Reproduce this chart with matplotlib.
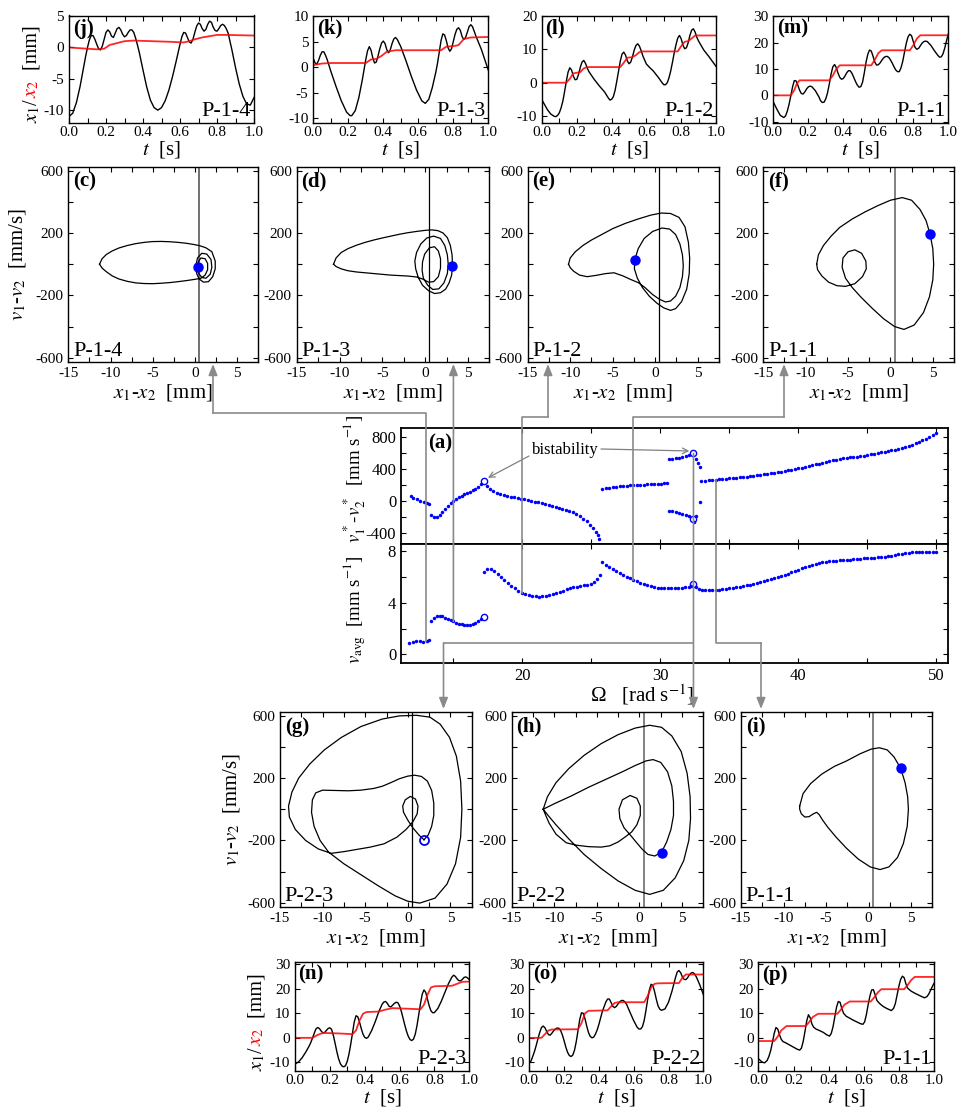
import numpy as np
import matplotlib
matplotlib.use("Agg")
import matplotlib.pyplot as plt
from matplotlib.lines import Line2D
from matplotlib.patches import FancyArrowPatch

plt.rcParams["font.family"] = "serif"
plt.rcParams["font.serif"] = ["Liberation Serif", "DejaVu Serif"]
plt.rcParams["mathtext.fontset"] = "stix"
plt.rcParams["axes.unicode_minus"] = False

W, H = 964, 1112

# -------------------------------------------------
# time series: (t [s], x1 [mm]) black and (t, x2 [mm]) red
# -------------------------------------------------
j_x1 = [(0, -11), (.02, -10.5), (.04, -8.8), (.06, -6.2), (.08, -3.0), (.09, -1.4), (.10, 0.0), (.11, 1.2),
        (.12, 1.9), (.13, 1.9), (.14, 1.3), (.15, 0.5), (.16, -0.2), (.17, -0.4), (.18, 0.2), (.19, 1.3),
        (.20, 2.4), (.21, 2.8), (.22, 2.5), (.23, 1.8), (.24, 1.6), (.25, 2.3), (.26, 3.0), (.27, 3.2),
        (.28, 2.8), (.29, 2.1), (.30, 1.7), (.31, 1.9), (.32, 2.4), (.33, 2.8), (.34, 2.8), (.35, 2.4),
        (.36, 1.5), (.37, 0.4), (.38, -0.8), (.40, -3.6), (.42, -6.3), (.44, -8.4), (.46, -9.6), (.48, -10),
        (.50, -9.6), (.52, -8.5), (.54, -6.8), (.56, -4.6), (.58, -2.1), (.59, -0.8), (.60, 0.5), (.61, 1.7),
        (.62, 2.4), (.63, 2.3), (.64, 1.6), (.65, 0.9), (.66, 0.7), (.67, 1.3), (.68, 2.4), (.69, 3.4),
        (.70, 3.9), (.71, 3.7), (.72, 3.0), (.73, 2.6), (.74, 2.9), (.75, 3.7), (.76, 4.2), (.77, 4.0),
        (.78, 3.2), (.79, 2.7), (.80, 2.6), (.81, 3.0), (.82, 3.5), (.83, 3.7), (.84, 3.5), (.85, 3.0),
        (.86, 2.3), (.88, -0.3), (.90, -3.2), (.92, -5.8), (.94, -7.8), (.96, -9.0), (.98, -9.2), (1.0, -8.0)]
j_x2 = [(0, 0), (.10, -0.2), (.15, -0.3), (.19, -0.2), (.22, 0.4), (.26, 0.7), (.30, 1.0), (.35, 1.1), (.45, 1.0),
        (.55, 0.9), (.62, 0.8), (.65, 1.0), (.68, 1.3), (.72, 1.6), (.76, 1.8), (.80, 2.0), (.85, 2.0), (1.0, 1.9)]

k_x1 = [(0, 1.7), (.01, 0.8), (.02, 0.6), (.03, 1.3), (.04, 2.3), (.05, 3.0), (.06, 3.0), (.07, 2.3), (.08, 1.4),
        (.10, -0.8), (.13, -3.8), (.16, -6.6), (.19, -8.8), (.21, -9.5), (.22, -9.5), (.24, -8.5), (.26, -6.0),
        (.28, -2.5), (.29, -0.5), (.30, 1.5), (.31, 3.2), (.32, 4.0), (.33, 3.3), (.34, 1.8), (.35, 0.8),
        (.36, 1.0), (.37, 2.2), (.38, 3.6), (.39, 4.7), (.40, 5.1), (.41, 4.6), (.42, 3.4), (.43, 2.8),
        (.44, 3.4), (.45, 4.6), (.46, 5.5), (.47, 5.8), (.48, 5.4), (.50, 4.0), (.53, 1.2), (.56, -1.8),
        (.59, -4.5), (.62, -6.6), (.64, -7.1), (.66, -6.3), (.68, -4.0), (.70, -1.0), (.71, 0.8), (.72, 3.0),
        (.73, 5.2), (.74, 6.5), (.75, 6.3), (.76, 5.2), (.77, 3.8), (.78, 3.1), (.79, 3.6), (.80, 5.0),
        (.81, 6.4), (.82, 7.4), (.83, 7.7), (.84, 7.2), (.85, 6.0), (.86, 5.4), (.87, 5.8), (.88, 6.8),
        (.89, 7.9), (.90, 8.3), (.91, 7.9), (.93, 6.0), (.96, 3.5), (1.0, -0.6)]
k_x2 = [(0, 0.4), (.05, 0.7), (.10, 0.8), (.30, 0.8), (.33, 1.5), (.36, 1.6), (.39, 2.2), (.42, 3.0), (.47, 3.3),
        (.55, 3.3), (.73, 3.3), (.76, 4.0), (.80, 4.1), (.83, 4.3), (.86, 5.5), (.90, 5.8), (1.0, 5.9)]

l_x1 = [(0, -5.2), (.03, -8.0), (.05, -9.4), (.07, -10.1), (.08, -10.2), (.09, -9.8), (.10, -9.0), (.11, -7.5),
        (.12, -5.5), (.13, -2.6), (.14, 0.5), (.15, 3.2), (.16, 4.5), (.17, 3.8), (.18, 2.0), (.19, 0.9),
        (.20, 1.0), (.21, 2.5), (.22, 4.6), (.23, 6.2), (.24, 6.7), (.25, 5.8), (.26, 4.4), (.27, 3.3),
        (.30, 1.0), (.33, -1.0), (.36, -2.8), (.38, -4.5), (.39, -5.2), (.40, -5.0), (.41, -4.2), (.42, -2.3),
        (.43, 0.5), (.44, 3.5), (.45, 6.5), (.46, 8.6), (.47, 9.2), (.48, 8.3), (.49, 6.6), (.50, 5.7),
        (.51, 6.2), (.52, 7.8), (.53, 9.8), (.54, 11.2), (.55, 11.7), (.56, 11.0), (.57, 9.6), (.58, 8.0),
        (.60, 5.6), (.62, 4.5), (.64, 3.5), (.67, 1.5), (.69, 0.0), (.70, -0.6), (.71, -0.6), (.72, 0.0),
        (.73, 1.5), (.74, 3.6), (.75, 6.2), (.76, 9.0), (.77, 11.4), (.78, 13.4), (.79, 14.2), (.80, 13.2),
        (.81, 11.3), (.82, 10.2), (.83, 10.5), (.84, 12.0), (.85, 14.2), (.86, 15.8), (.87, 16.2), (.88, 15.2),
        (.89, 13.6), (.90, 12.5), (.93, 9.8), (.96, 7.8), (1.0, 4.9)]
l_x2 = [(0, 0), (.14, 0), (.16, 1.2), (.18, 2.8), (.20, 3.0), (.22, 3.2), (.24, 4.3), (.26, 4.7), (.45, 4.7),
        (.47, 6.0), (.49, 7.5), (.52, 7.7), (.54, 8.3), (.56, 9.2), (.58, 9.4), (.78, 9.4), (.80, 11.0),
        (.82, 12.3), (.84, 12.5), (.86, 13.3), (.88, 14.2), (1.0, 14.2)]

m_x1 = [(0, -2.5), (.02, -5.2), (.04, -7.6), (.06, -8.4), (.07, -7.8), (.08, -6.0), (.09, -3.4), (.10, -0.2),
        (.11, 3.2), (.12, 5.6), (.13, 5.5), (.14, 3.9), (.15, 2.0), (.16, 0.7), (.17, 0.5), (.18, 1.3),
        (.19, 2.4), (.20, 3.2), (.21, 3.5), (.22, 3.3), (.24, 1.8), (.26, -0.5), (.27, -2.0), (.28, -2.7),
        (.29, -2.6), (.30, -1.3), (.31, 1.0), (.32, 4.3), (.33, 8.0), (.34, 10.8), (.35, 11.7), (.36, 10.5),
        (.37, 8.4), (.38, 6.8), (.39, 6.1), (.40, 6.4), (.41, 7.4), (.42, 8.6), (.43, 9.4), (.44, 9.3),
        (.45, 8.3), (.46, 6.8), (.47, 5.2), (.48, 3.9), (.49, 3.1), (.50, 3.3), (.51, 5.0), (.52, 8.5),
        (.53, 12.6), (.54, 15.6), (.55, 17.2), (.56, 16.8), (.57, 14.8), (.58, 12.6), (.59, 11.5), (.60, 11.6),
        (.61, 12.3), (.62, 13.3), (.63, 14.2), (.64, 14.7), (.65, 14.8), (.66, 14.4), (.67, 13.4), (.68, 12.2),
        (.69, 10.8), (.70, 9.6), (.71, 9.0), (.72, 9.0), (.73, 10.5), (.74, 13.0), (.75, 16.5), (.76, 19.8),
        (.77, 22.2), (.78, 23.2), (.79, 22.6), (.80, 20.4), (.81, 18.2), (.82, 17.5), (.83, 17.8), (.84, 18.8),
        (.85, 19.8), (.86, 20.4), (.87, 20.6), (.88, 20.4), (.90, 19.0), (.92, 17.0), (.94, 15.2), (.95, 14.5),
        (.96, 14.6), (.97, 15.8), (.98, 18.0), (.99, 20.8), (1.0, 23.3)]
m_x2 = [(0, 0), (.10, 0), (.12, 2.0), (.135, 4.5), (.15, 5.7), (.32, 5.7), (.34, 7.5), (.36, 10.0), (.38, 11.4),
        (.56, 11.4), (.58, 13.5), (.60, 16.0), (.62, 17.1), (.78, 17.1), (.80, 19.0), (.82, 21.5), (.84, 22.8),
        (1.0, 22.8)]

n_x1 = [(0, -10.7), (.02, -9.8), (.04, -8.2), (.06, -6.0), (.08, -3.5), (.09, -2.0), (.10, -0.2), (.11, 1.8),
        (.12, 3.6), (.13, 4.2), (.14, 3.8), (.15, 2.8), (.16, 2.0), (.17, 2.2), (.18, 3.0), (.19, 3.8),
        (.20, 4.1), (.21, 3.4), (.22, 1.0), (.23, -2.2), (.24, -5.6), (.25, -8.5), (.26, -10.5), (.27, -11.5),
        (.28, -11.8), (.29, -11.3), (.30, -9.5), (.31, -6.5), (.32, -2.5), (.33, 2.0), (.34, 6.5), (.35, 9.0),
        (.36, 8.6), (.37, 6.5), (.38, 3.8), (.39, 1.5), (.40, 0.2), (.41, -0.2), (.42, 0.3), (.44, 3.0),
        (.46, 6.5), (.48, 10.5), (.50, 13.7), (.51, 14.6), (.52, 14.8), (.53, 14.0), (.54, 12.8), (.55, 12.6),
        (.56, 13.3), (.57, 14.0), (.58, 14.5), (.59, 14.3), (.60, 13.0), (.61, 10.8), (.62, 8.0), (.63, 5.2),
        (.64, 2.6), (.65, 0.6), (.66, -0.7), (.67, -1.1), (.68, -0.5), (.69, 1.5), (.70, 5.0), (.71, 9.5),
        (.72, 14.0), (.73, 17.8), (.74, 19.5), (.75, 18.5), (.76, 15.8), (.77, 13.0), (.78, 11.0), (.79, 10.2),
        (.80, 10.3), (.82, 12.0), (.84, 15.0), (.86, 18.5), (.88, 22.0), (.90, 24.7), (.91, 25.5), (.92, 25.0),
        (.93, 24.0), (.94, 23.3), (.95, 23.2), (.96, 23.8), (.97, 24.6), (.98, 24.8), (.99, 24.4), (1.0, 23.7)]
n_x2 = [(0, 0), (.10, 0), (.13, 1.2), (.16, 2.0), (.25, 1.8), (.33, 1.5), (.35, 3.0), (.37, 7.0), (.39, 9.8),
        (.41, 10.5), (.48, 10.7), (.52, 11.5), (.56, 12.1), (.70, 11.7), (.72, 11.6), (.74, 13.5), (.76, 17.5),
        (.78, 20.5), (.80, 21.0), (.90, 21.2), (.93, 22.0), (.96, 22.8), (1.0, 22.9)]

o_x1 = [(0, -10.3), (.01, -9.4), (.02, -7.5), (.03, -5.5), (.04, -3.0), (.05, -0.3), (.06, 2.2), (.07, 4.2),
        (.08, 4.8), (.09, 4.1), (.10, 2.6), (.11, 1.3), (.12, 1.1), (.13, 1.9), (.14, 2.9), (.15, 3.6),
        (.16, 4.0), (.17, 3.9), (.18, 3.0), (.19, 1.2), (.20, -1.2), (.21, -3.8), (.22, -5.9), (.23, -7.2),
        (.24, -7.6), (.25, -7.0), (.26, -5.0), (.27, -1.5), (.28, 3.0), (.29, 7.5), (.30, 10.2), (.31, 10.0),
        (.32, 7.8), (.33, 4.8), (.34, 2.2), (.35, 0.6), (.36, 0.0), (.37, 0.3), (.38, 1.5), (.39, 3.2),
        (.40, 5.5), (.42, 10.8), (.44, 14.6), (.45, 15.8), (.46, 15.8), (.47, 14.4), (.48, 12.8), (.49, 12.3),
        (.50, 12.8), (.51, 13.8), (.52, 14.7), (.53, 15.2), (.54, 15.2), (.55, 14.6), (.56, 13.5), (.58, 10.2),
        (.60, 7.0), (.62, 4.3), (.63, 3.6), (.64, 3.6), (.65, 4.5), (.66, 7.0), (.67, 11.0), (.68, 15.5),
        (.69, 19.5), (.70, 21.8), (.71, 21.4), (.72, 18.8), (.73, 15.7), (.74, 13.0), (.75, 11.7), (.76, 11.2),
        (.78, 11.8), (.80, 14.5), (.82, 19.0), (.84, 24.5), (.85, 26.8), (.86, 27.4), (.87, 26.5), (.88, 24.8),
        (.89, 23.8), (.90, 23.7), (.91, 24.5), (.92, 25.6), (.93, 26.4), (.94, 26.6), (.95, 26.0), (.96, 24.8),
        (.97, 23.2), (.98, 21.5), (.99, 19.6), (1.0, 17.7)]
o_x2 = [(0, 0), (.07, 0), (.09, 1.5), (.11, 3.0), (.13, 3.4), (.28, 3.5), (.30, 6.0), (.32, 10.0), (.34, 11.0),
        (.45, 11.2), (.47, 12.8), (.49, 14.2), (.51, 14.5), (.66, 14.5), (.68, 17.0), (.70, 20.5), (.72, 22.0),
        (.74, 22.2), (.86, 22.3), (.88, 24.5), (.90, 25.8), (1.0, 25.8)]

p_x1 = [(0, -8.5), (.02, -9.8), (.035, -10.2), (.05, -9.2), (.06, -7.5), (.07, -5.2), (.08, -1.8), (.09, 1.8),
        (.10, 4.2), (.11, 3.6), (.12, 1.3), (.13, -0.6), (.14, -1.5), (.16, -2.2), (.18, -3.0), (.20, -3.8),
        (.22, -4.6), (.235, -5.0), (.245, -4.2), (.255, -1.5), (.265, 2.5), (.275, 6.8), (.285, 9.4),
        (.295, 8.2), (.305, 5.6), (.315, 4.3), (.33, 3.5), (.35, 2.9), (.37, 2.2), (.39, 1.2), (.405, 0.7),
        (.415, 1.8), (.425, 4.5), (.435, 8.5), (.445, 12.5), (.455, 14.8), (.465, 14.5), (.475, 12.0),
        (.485, 10.0), (.50, 8.8), (.52, 8.0), (.54, 7.2), (.56, 6.5), (.58, 5.8), (.595, 5.5), (.605, 6.5),
        (.615, 9.5), (.625, 13.5), (.635, 17.0), (.645, 19.5), (.655, 19.6), (.665, 17.5), (.675, 15.2),
        (.69, 14.0), (.71, 12.8), (.73, 12.0), (.757, 11.1), (.77, 12.0), (.78, 14.0), (.79, 17.5), (.80, 21.0),
        (.81, 23.8), (.82, 25.1), (.83, 24.5), (.84, 22.0), (.85, 20.2), (.87, 19.0), (.89, 18.2), (.91, 17.5),
        (.93, 16.8), (.946, 16.3), (.96, 16.8), (.97, 17.8), (.98, 19.3), (.99, 20.8), (1.0, 22.2)]
p_x2 = [(0, -1.3), (.09, -1.3), (.11, 0.5), (.13, 3.0), (.16, 4.8), (.27, 4.8), (.29, 6.5), (.31, 8.5), (.34, 9.8),
        (.45, 9.8), (.47, 11.5), (.49, 13.5), (.52, 14.8), (.64, 14.8), (.66, 16.5), (.68, 18.5), (.70, 19.8),
        (.83, 19.8), (.85, 21.5), (.87, 23.5), (.89, 24.8), (1.0, 24.8)]

# -------------------------------------------------
# phase portraits (x1-x2 [mm], v1-v2 [mm/s]) and Poincare points
# -------------------------------------------------
c_orbit = [(-11.3, 0), (-11.0, 35), (-10.5, 62), (-9.8, 85), (-9.0, 104), (-8.0, 120), (-7.0, 132), (-6.0, 140),
           (-5.0, 145), (-4.0, 146), (-3.0, 144), (-2.0, 140), (-1.0, 134), (0.0, 125), (0.6, 118), (1.3, 105),
           (2.0, 80), (2.4, 20), (2.4, -30), (2.1, -80), (1.6, -112), (1.0, -115), (0.5, -95), (0.2, -60),
           (0.1, -10), (0.3, 40), (0.8, 70), (1.4, 65), (1.9, 30), (2.0, -20), (1.8, -65), (1.3, -90), (0.8, -85),
           (0.4, -55), (0.3, -20), (0.4, 15), (0.7, 40), (1.2, 35), (1.5, 5), (1.5, -35), (1.2, -70), (0.7, -90),
           (0.0, -97), (-1.0, -105), (-2.0, -112), (-3.0, -118), (-4.0, -122), (-5.0, -125), (-6.0, -124),
           (-7.0, -120), (-8.0, -110), (-9.0, -95), (-9.8, -75), (-10.5, -48), (-11.0, -25), (-11.3, 0)]
c_dot = (0.4, -20)

d_orbit = [(-10.7, 0), (-10.4, 40), (-9.8, 75), (-9.0, 100), (-8.0, 122), (-7.0, 140), (-6.0, 155), (-5.0, 168),
           (-4.0, 180), (-3.0, 192), (-2.0, 202), (-1.0, 210), (0.0, 217), (0.8, 220), (1.5, 215), (2.1, 200),
           (2.6, 170), (2.95, 120), (3.15, 60), (3.2, -10), (3.1, -70), (2.8, -120), (2.4, -160), (1.8, -183),
           (1.1, -188), (0.4, -170), (-0.3, -135), (-0.8, -85), (-1.1, -30), (-1.2, 20), (-1.0, 75), (-0.5, 130),
           (0.2, 168), (1.0, 180), (1.8, 165), (2.3, 120), (2.6, 60), (2.7, 0), (2.6, -60), (2.2, -120),
           (1.6, -158), (0.9, -162), (0.3, -135), (-0.2, -90), (-0.35, -40), (-0.3, 15), (-0.05, 65), (0.5, 105),
           (1.1, 112), (1.55, 85), (1.8, 35), (1.8, -25), (1.55, -80), (1.0, -112), (0.4, -115), (-0.3, -95),
           (-1.0, -82), (-2.0, -76), (-3.0, -73), (-4.0, -70), (-5.0, -65), (-6.0, -60), (-7.0, -55), (-8.0, -50),
           (-9.0, -42), (-9.8, -30), (-10.4, -15), (-10.7, 0)]
d_dot = (3.2, -10)

e_orbit = [(-10.2, 0), (-10.0, 40), (-9.4, 80), (-8.5, 120), (-7.5, 155), (-6.3, 190), (-5.0, 228), (-3.5, 262),
           (-2.0, 290), (-0.5, 315), (0.7, 328), (1.8, 325), (2.8, 300), (3.5, 240), (3.9, 140), (4.05, 40),
           (4.0, -60), (3.7, -160), (3.1, -240), (2.4, -285), (1.8, -296), (1.0, -280), (0.2, -250), (-0.7, -205),
           (-1.5, -150), (-2.1, -90), (-2.45, -30), (-2.4, 29), (-2.0, 100), (-1.3, 165), (-0.3, 210), (0.8, 232),
           (1.7, 225), (2.4, 190), (2.9, 130), (3.2, 60), (3.3, -10), (3.2, -80), (2.9, -150), (2.4, -205),
           (1.8, -236), (1.2, -242), (0.5, -225), (-0.3, -195), (-1.2, -150), (-2.0, -118), (-2.8, -100),
           (-3.8, -75), (-4.85, -55), (-5.8, -60), (-7.0, -72), (-8.0, -80), (-8.9, -70), (-9.6, -45),
           (-10.0, -22), (-10.2, 0)]
e_dot = (-2.4, 29)

f_orbit = [(-8.7, 0), (-8.5, 60), (-7.9, 120), (-7.0, 180), (-6.0, 235), (-4.5, 290), (-3.0, 335), (-1.5, 375),
           (0.0, 410), (1.4, 427), (2.5, 410), (3.5, 350), (4.2, 280), (4.66, 196), (5.0, 100), (5.1, 0),
           (5.0, -100), (4.6, -210), (3.9, -310), (2.8, -390), (1.6, -418), (0.5, -400), (-0.8, -350),
           (-2.2, -280), (-3.5, -210), (-4.5, -150), (-5.3, -90), (-5.7, -20), (-5.6, 40), (-5.0, 80),
           (-4.2, 92), (-3.4, 70), (-2.9, 20), (-2.85, -30), (-3.3, -80), (-4.2, -125), (-5.3, -142),
           (-6.3, -138), (-7.3, -115), (-8.1, -75), (-8.6, -35), (-8.7, 0)]
f_dot = (4.66, 196)

g_orbit = [(1.9, -196), (1.3, -165), (0.6, -120), (0.0, -70), (-0.5, -20), (-0.6, 20), (-0.3, 60), (0.3, 82),
           (0.9, 65), (1.2, 20), (1.1, -30), (0.6, -80), (-0.2, -130), (-1.3, -180), (-2.8, -222), (-4.4, -243),
           (-6.0, -258), (-7.5, -272), (-9.0, -283), (-10.5, -255), (-12.0, -200), (-13.2, -130), (-13.9, -50),
           (-14.0, 20), (-13.6, 110), (-12.8, 200), (-11.5, 290), (-9.8, 380), (-7.8, 460), (-5.5, 530),
           (-3.0, 578), (-1.0, 598), (1.0, 602), (2.6, 590), (3.8, 545), (4.9, 460), (5.7, 340), (6.2, 180),
           (6.35, 0), (6.2, -180), (5.6, -350), (4.6, -480), (3.2, -570), (1.4, -602), (0.0, -590),
           (-1.5, -555), (-3.5, -490), (-5.5, -420), (-7.5, -350), (-9.3, -275), (-10.3, -200), (-11.0, -110),
           (-11.3, -20), (-11.2, 60), (-10.8, 105), (-10.0, 122), (-8.5, 120), (-7.0, 118), (-5.5, 122),
           (-4.0, 133), (-3.0, 147), (-2.0, 170), (-1.0, 195), (0.0, 212), (0.8, 218), (1.6, 210), (2.3, 180),
           (2.8, 120), (3.05, 40), (3.05, -40), (2.8, -110), (2.4, -165), (1.9, -196)]
g_dot = (1.9, -196)

h_orbit = [(-11.3, 0), (-10.0, 35), (-8.0, 85), (-6.0, 140), (-4.0, 190), (-2.0, 240), (-0.5, 280), (0.8, 310),
           (1.6, 318), (2.5, 300), (3.3, 240), (3.8, 150), (4.0, 50), (4.0, -40), (3.7, -130), (3.2, -210),
           (2.6, -275), (1.8, -300), (1.0, -290), (0.3, -255), (-0.4, -210), (-1.0, -170), (-1.8, -120),
           (-2.3, -60), (-2.4, 0), (-2.0, 60), (-1.1, 88), (-0.3, 70), (0.1, 20), (0.1, -40), (-0.3, -100),
           (-0.9, -145), (-1.6, -175), (-2.5, -210), (-3.5, -235), (-4.5, -243), (-6.0, -240), (-7.5, -230),
           (-8.6, -215), (-9.8, -160), (-10.6, -90), (-11.0, -40), (-11.3, 0), (-10.8, 80), (-9.8, 170),
           (-8.3, 260), (-6.5, 345), (-4.5, 420), (-2.5, 478), (-0.5, 520), (1.2, 538), (2.6, 525), (3.8, 470),
           (4.9, 370), (5.6, 230), (5.95, 80), (6.0, -60), (5.8, -200), (5.2, -330), (4.2, -440), (2.8, -520),
           (1.2, -546), (-0.5, -520), (-2.5, -460), (-4.5, -380), (-6.5, -290), (-8.3, -190), (-9.8, -100),
           (-10.8, -35), (-11.3, 0)]
h_dot = (2.6, -279)

i_orbit = [(-8.1, 20), (-7.7, 100), (-6.8, 165), (-5.5, 225), (-4.0, 275), (-2.6, 309), (-1.0, 355), (0.3, 385),
           (1.27, 394), (2.2, 380), (3.0, 335), (3.78, 262), (4.3, 170), (4.6, 80), (4.69, 0), (4.55, -110),
           (4.1, -220), (3.4, -310), (2.4, -370), (1.35, -387), (0.2, -370), (-1.2, -320), (-2.6, -250),
           (-3.8, -180), (-4.8, -115), (-5.4, -70), (-5.8, -35), (-6.1, -20), (-6.5, -30), (-7.0, -48),
           (-7.5, -50), (-7.9, -30), (-8.1, 0), (-8.1, 20)]
i_dot = (3.78, 262)

# -------------------------------------------------
# (a) bifurcation diagram: Omega [rad/s] vs v1*-v2* [mm/s] and v_avg [mm/s]
# -------------------------------------------------
top_b1 = [(11.9, 62), (12.1, 42), (12.35, 25), (12.6, 5), (12.85, -10), (13.05, -20), (13.25, -33)]
top_b2 = [(13.4, -180), (13.6, -205), (13.8, -200), (14.0, -180), (14.2, -140), (14.4, -95), (14.6, -60),
          (14.8, -25), (15.0, 0), (15.2, 25), (15.4, 45), (15.6, 65), (15.8, 85), (16.0, 100), (16.2, 115),
          (16.4, 135), (16.6, 155), (16.8, 180), (17.0, 215)]
top_b3 = [(17.4, 185), (17.65, 155), (17.9, 125), (18.15, 105), (18.4, 90), (18.65, 75), (18.9, 65), (19.15, 55),
          (19.4, 45), (19.65, 35), (19.9, 28), (20.15, 20), (20.4, 10), (20.65, 0), (20.9, -8), (21.15, -18),
          (21.4, -28), (21.65, -40), (21.9, -50), (22.15, -60), (22.4, -70), (22.65, -82), (22.9, -95),
          (23.15, -108), (23.4, -122), (23.65, -140), (23.9, -158), (24.15, -185), (24.4, -220), (24.65, -255),
          (24.9, -295), (25.1, -340), (25.3, -385), (25.45, -430), (25.57, -475)]
top_b4 = [(25.8, 150), (26.05, 160), (26.3, 168), (26.55, 175), (26.8, 180), (27.05, 185), (27.3, 188),
          (27.55, 192), (27.8, 196), (28.05, 200), (28.3, 202), (28.55, 204), (28.8, 206), (29.05, 208),
          (29.3, 210), (29.55, 213), (29.8, 216), (30.05, 218), (30.3, 220), (30.5, 222)]
top_b5 = [(30.6, 520), (30.85, 525), (31.1, 532), (31.35, 540), (31.6, 550), (31.85, 560), (32.1, 572),
          (32.55, 530), (32.7, 480), (32.85, 420), (32.9, -10)]
top_b6 = [(30.6, -120), (30.85, -130), (31.1, -140), (31.35, -150), (31.6, -160), (31.85, -175), (32.1, -190),
          (32.6, -185), (32.45, -265)]
top_b7 = [(32.95, 250), (33.25, 255), (33.5, 258), (33.75, 262), (34.0, 266), (34.25, 270), (34.5, 275),
          (34.75, 280), (35.0, 285), (35.25, 288), (35.5, 292), (35.75, 297), (36.0, 302), (36.25, 306),
          (36.5, 310), (36.75, 316), (37.0, 320), (37.25, 326), (37.5, 332), (37.75, 340), (38.0, 346),
          (38.25, 352), (38.5, 360), (38.75, 367), (39.0, 374), (39.25, 382), (39.5, 390), (39.75, 400),
          (40.0, 408), (40.25, 418), (40.5, 428), (40.75, 438), (41.0, 448), (41.25, 458), (41.5, 468),
          (41.75, 478), (42.0, 488), (42.25, 498), (42.5, 507), (42.75, 516), (43.0, 524), (43.25, 532),
          (43.5, 538), (43.75, 544), (44.0, 550), (44.25, 555), (44.5, 560), (44.75, 567), (45.0, 575),
          (45.25, 582), (45.5, 590), (45.75, 598), (46.0, 606), (46.25, 614), (46.5, 622), (46.75, 632),
          (47.0, 642), (47.25, 652), (47.5, 662), (47.75, 675), (48.0, 690), (48.25, 705), (48.5, 722),
          (48.75, 740), (49.0, 760), (49.25, 780), (49.5, 800), (49.75, 820), (50.0, 845)]
top_open = [(17.2, 250), (32.4, 595), (32.4, -225)]

bot_b1 = [(11.8, 0.85), (12.05, 0.98), (12.3, 1.0), (12.55, 1.0), (12.8, 0.98), (13.05, 1.0), (13.2, 1.1)]
bot_b2 = [(13.4, 2.6), (13.6, 2.85), (13.8, 3.0), (14.0, 3.0), (14.2, 2.93), (14.4, 2.85), (14.6, 2.75),
          (14.8, 2.65), (15.0, 2.55), (15.2, 2.45), (15.4, 2.38), (15.6, 2.32), (15.8, 2.28), (16.0, 2.27),
          (16.2, 2.3), (16.4, 2.35), (16.6, 2.45), (16.8, 2.55), (17.0, 2.7)]
bot_b3 = [(17.2, 6.35), (17.45, 6.6), (17.7, 6.6), (17.95, 6.45), (18.2, 6.25), (18.45, 6.0), (18.7, 5.75),
          (18.95, 5.5), (19.2, 5.3), (19.45, 5.1), (19.7, 4.92), (19.95, 4.78), (20.2, 4.67), (20.45, 4.58),
          (20.7, 4.52), (20.95, 4.48), (21.2, 4.47), (21.45, 4.48), (21.7, 4.52), (21.95, 4.58), (22.2, 4.66),
          (22.45, 4.74), (22.7, 4.83), (22.95, 4.93), (23.2, 5.02), (23.45, 5.1), (23.7, 5.18), (23.95, 5.25),
          (24.2, 5.3), (24.45, 5.33), (24.7, 5.37), (24.95, 5.45), (25.2, 5.6), (25.4, 5.8), (25.6, 6.15)]
bot_b4 = [(25.8, 7.15), (26.05, 6.95), (26.3, 6.78), (26.55, 6.62), (26.8, 6.45), (27.05, 6.3), (27.3, 6.15),
          (27.55, 6.0), (27.8, 5.88), (28.05, 5.76), (28.3, 5.65), (28.55, 5.55), (28.8, 5.46), (29.05, 5.38),
          (29.3, 5.3), (29.55, 5.23), (29.8, 5.17), (30.05, 5.12), (30.3, 5.1), (30.55, 5.14), (30.8, 5.15),
          (31.05, 5.16), (31.3, 5.16), (31.55, 5.17), (31.8, 5.2), (32.05, 5.25), (32.25, 5.32), (32.6, 5.2),
          (32.8, 5.02)]
bot_b5 = [(33.0, 4.97), (33.25, 4.95), (33.5, 4.96), (33.75, 4.97), (34.0, 4.98), (34.25, 5.0), (34.5, 5.03),
          (34.75, 5.06), (35.0, 5.1), (35.25, 5.14), (35.5, 5.18), (35.75, 5.23), (36.0, 5.28), (36.25, 5.33),
          (36.5, 5.39), (36.75, 5.45), (37.0, 5.51), (37.25, 5.58), (37.5, 5.65), (37.75, 5.72), (38.0, 5.8),
          (38.25, 5.88), (38.5, 5.96), (38.75, 6.05), (39.0, 6.14), (39.25, 6.24), (39.5, 6.34), (39.75, 6.45),
          (40.0, 6.55), (40.25, 6.65), (40.5, 6.74), (40.75, 6.83), (41.0, 6.91), (41.25, 6.98), (41.5, 7.05),
          (41.75, 7.11), (42.0, 7.16), (42.25, 7.2), (42.5, 7.23), (42.75, 7.26), (43.0, 7.28), (43.25, 7.3),
          (43.5, 7.32), (43.75, 7.34), (44.0, 7.36), (44.25, 7.38), (44.5, 7.4), (44.75, 7.42), (45.0, 7.44),
          (45.25, 7.46), (45.5, 7.48), (45.75, 7.5), (46.0, 7.53), (46.25, 7.56), (46.5, 7.6), (46.75, 7.64),
          (47.0, 7.69), (47.25, 7.74), (47.5, 7.79), (47.75, 7.84), (48.0, 7.88), (48.25, 7.91), (48.5, 7.93),
          (48.75, 7.94), (49.0, 7.95), (49.25, 7.95), (49.5, 7.95), (49.75, 7.95), (50.0, 7.95)]
bot_open = [(17.2, 2.92), (32.4, 5.45)]

# Omega values picked for the small panels
link_up_omega = [13.0, 15.0, 20.0, 28.0]
link_up_vavg = [1.0, 2.55, 4.73, 5.76]
link_down_omega = [32.4, 34.0]
link_down_v = [595, 266]


# -------------------------------------------------
# helpers
# -------------------------------------------------
fig = plt.figure(figsize=(W / 100, H / 100), dpi=100)
GRAY = "#8a8a8a"


def box(l, t, r, b):
    return [l / W, 1 - b / H, (r - l) / W, (b - t) / H]


def fxy(x, y):
    return (x / W, 1 - y / H)


def frame(ax, fs):
    ax.tick_params(which="both", direction="in", top=True, right=True,
                   length=3.5, width=0.8, labelsize=fs)
    for s in ax.spines.values():
        s.set_linewidth(1.0)


def time_panel(rect, black, red, ylim, yticks, tag, name):
    ax = fig.add_axes(box(*rect))
    t1, x1 = np.array(black).T
    t2, x2 = np.array(red).T
    ax.plot(t1, x1, color="black", lw=1.0)
    ax.plot(t2, x2, color="red", lw=1.3, alpha=0.85)
    ax.set_xlim(0, 1)
    ax.set_ylim(*ylim)
    ax.set_xticks([0, .2, .4, .6, .8, 1.0])
    ax.set_xticklabels(["0.0", "0.2", "0.4", "0.6", "0.8", "1.0"])
    ax.set_xticks([.1, .3, .5, .7, .9], minor=True)
    ax.set_yticks(yticks)
    frame(ax, 11)
    ax.tick_params(axis="x", pad=2)
    ax.set_xlabel(r"$t$  [s]", fontsize=15)
    ax.xaxis.set_label_coords(0.5, -0.15)
    ax.text(0.02, 0.97, tag, transform=ax.transAxes, fontsize=15,
            fontweight="bold", va="top", ha="left")
    ax.text(0.985, 0.02, name, transform=ax.transAxes, fontsize=16,
            ha="right", va="bottom")
    return ax


def phase_panel(rect, orbit, dot, tag, name, vcolor, hollow=False):
    ax = fig.add_axes(box(*rect))
    xs, vs = np.array(orbit).T
    ax.axvline(0.5, color=vcolor, lw=1.3 if vcolor != "black" else 0.9)
    ax.plot(xs, vs, color="black", lw=0.9)
    if hollow:
        ax.plot(*dot, "o", ms=6.5, mfc="none", mec="blue", mew=1.3)
    else:
        ax.plot(*dot, "o", ms=6.5, color="blue")
    ax.set_xlim(-15, 7.5)
    ax.set_ylim(-625, 625)
    ax.set_xticks([-15, -12.5, -10, -7.5, -5, -2.5, 0, 2.5, 5, 7.5])
    ax.set_xticklabels(["-15", "", "-10", "", "-5", "", "0", "", "5", ""])
    ax.set_yticks([-600, -400, -200, 0, 200, 400, 600])
    ax.set_yticklabels(["-600", "", "-200", "", "200", "", "600"])
    frame(ax, 11)
    ax.set_xlabel(r"$x_1$-$x_2$  [mm]", fontsize=15)
    ax.xaxis.set_label_coords(0.5, -0.105)
    ax.text(0.025, 0.975, tag, transform=ax.transAxes, fontsize=15,
            fontweight="bold", va="top", ha="left")
    ax.text(0.025, 0.005, name, transform=ax.transAxes, fontsize=16,
            ha="left", va="bottom")
    return ax


def colored_ylabel(x_px, bottom_px, parts, fs=14.5):
    renderer = fig.canvas.get_renderer()
    y = bottom_px
    for s, c in parts:
        t = fig.text(*fxy(x_px, y), s, color=c, rotation=90, ha="center",
                     va="bottom", fontsize=fs)
        bb = t.get_window_extent(renderer)
        y = H - bb.y1


def connector(points):
    xs = [p[0] / W for p in points[:-1]]
    ys = [1 - p[1] / H for p in points[:-1]]
    fig.add_artist(Line2D(xs, ys, color=GRAY, lw=1.2, transform=fig.transFigure, zorder=20))
    arr = FancyArrowPatch(fxy(*points[-2]), fxy(*points[-1]), transform=fig.transFigure,
                          arrowstyle="-|>,head_length=0.55,head_width=0.22", mutation_scale=12,
                          color=GRAY, lw=1.2, shrinkA=0, shrinkB=0, zorder=20)
    fig.add_artist(arr)


# -------------------------------------------------
# top row: time series (j)-(m)
# -------------------------------------------------
time_panel((69, 15.5, 254, 123.3), j_x1, j_x2, (-12.1, 5.1), [-10, -5, 0, 5], "(j)", "P-1-4")
time_panel((313.3, 15.5, 488.3, 123.3), k_x1, k_x2, (-11, 10.1), [-10, -5, 0, 5, 10], "(k)", "P-1-3")
time_panel((542, 15.5, 716, 123.3), l_x1, l_x2, (-12.2, 20.2), [-10, 0, 10, 20], "(l)", "P-1-2")
time_panel((773.3, 15.5, 948.3, 123.3), m_x1, m_x2, (-10.6, 30.3), [-10, 0, 10, 20, 30], "(m)", "P-1-1")

# -------------------------------------------------
# second row: phase portraits (c)-(f)
# -------------------------------------------------
ax_c = phase_panel((68.3, 166.7, 258.3, 361.7), c_orbit, c_dot, "(c)", "P-1-4", "#666666")
phase_panel((296.7, 166.7, 489.3, 361.7), d_orbit, d_dot, "(d)", "P-1-3", "black")
phase_panel((527.7, 166.7, 719, 361.7), e_orbit, e_dot, "(e)", "P-1-2", "black")
phase_panel((763.3, 166.7, 954, 361.7), f_orbit, f_dot, "(f)", "P-1-1", "#777777")
ax_c.set_ylabel(r"$v_1$-$v_2$  [mm/s]", fontsize=15)
ax_c.yaxis.set_label_coords(-0.21, 0.5)

# -------------------------------------------------
# (a) bifurcation diagram
# -------------------------------------------------
ax_top = fig.add_axes(box(401, 428, 948, 544))
ax_bot = fig.add_axes(box(401, 544, 948, 663))
for branch in [top_b1, top_b2, top_b3, top_b4, top_b5, top_b6, top_b7]:
    om, v = np.array(branch).T
    ax_top.plot(om, v, "o", ms=2.5, color="blue", mew=0)
om, v = np.array(top_open).T
ax_top.plot(om, v, "o", ms=4.5, mfc="none", mec="blue", mew=1.0)
for branch in [bot_b1, bot_b2, bot_b3, bot_b4, bot_b5]:
    om, v = np.array(branch).T
    ax_bot.plot(om, v, "o", ms=2.5, color="blue", mew=0)
om, v = np.array(bot_open).T
ax_bot.plot(om, v, "o", ms=4.5, mfc="none", mec="blue", mew=1.0)

for ax in (ax_top, ax_bot):
    ax.set_xlim(11.2, 50.85)
    ax.set_xticks([20, 30, 40, 50])
    ax.set_xticks([15, 25, 35, 45], minor=True)
    frame(ax, 12)
    for s in ax.spines.values():
        s.set_linewidth(1.3)
ax_top.set_ylim(-537, 912)
ax_top.set_yticks([-400, 0, 400, 800])
ax_top.set_yticks([-200, 200, 600], minor=True)
ax_top.tick_params(labelbottom=False)
ax_bot.set_ylim(-0.67, 8.54)
ax_bot.set_yticks([0, 4, 8])
ax_bot.set_yticks([2, 6], minor=True)
ax_top.set_ylabel(r"$v_1^*$-$v_2^*$  [mm s$^{-1}$]", fontsize=13.5)
ax_top.yaxis.set_label_coords(-0.06, 0.56)
ax_bot.set_ylabel(r"$v_{\rm avg}$  [mm s$^{-1}$]", fontsize=13.5)
ax_bot.yaxis.set_label_coords(-0.06, 0.45)
ax_bot.set_xlabel(r"Ω   [rad s$^{-1}$]", fontsize=15)
ax_bot.xaxis.set_label_coords(0.44, -0.16)
ax_top.text(0.05, 0.955, "(a)", transform=ax_top.transAxes, fontsize=15,
            fontweight="bold", va="top", ha="left")
ax_top.text(*fxy(531.7, 450), "bistability", transform=fig.transFigure,
            fontsize=12, va="center", ha="left")
ax_top.annotate("", xy=(17.5, 290), xytext=fxy(529, 456), textcoords="figure fraction",
                arrowprops=dict(arrowstyle="->", color="gray", lw=0.9, shrinkA=0, shrinkB=0))
ax_top.annotate("", xy=(32.1, 625), xytext=fxy(601, 449), textcoords="figure fraction",
                arrowprops=dict(arrowstyle="->", color="gray", lw=0.9, shrinkA=0, shrinkB=0))

# -------------------------------------------------
# third row: phase portraits (g)-(i)
# -------------------------------------------------
ax_g = phase_panel((280, 711.7, 471.7, 906.7), g_orbit, g_dot, "(g)", "P-2-3", "black", hollow=True)
phase_panel((511.7, 711.7, 703.3, 906.7), h_orbit, h_dot, "(h)", "P-2-2", "#777777")
phase_panel((741, 711.7, 932.3, 906.7), i_orbit, i_dot, "(i)", "P-1-1", "#777777")
ax_g.set_ylabel(r"$v_1$-$v_2$  [mm/s]", fontsize=15)
ax_g.yaxis.set_label_coords(-0.2, 0.5)

# -------------------------------------------------
# bottom row: time series (n)-(p)
# -------------------------------------------------
time_panel((295, 961.7, 469.3, 1071), n_x1, n_x2, (-13.5, 31), [-10, 0, 10, 20, 30], "(n)", "P-2-3")
time_panel((529.3, 961.7, 703.3, 1071), o_x1, o_x2, (-13.5, 31), [-10, 0, 10, 20, 30], "(o)", "P-2-2")
time_panel((758.4, 961.7, 934, 1071), p_x1, p_x2, (-13.5, 31), [-10, 0, 10, 20, 30], "(p)", "P-1-1")

label_parts = [(r"$x_1$/", "black"), (r"$x_2$", "red"), ("  [mm]", "black")]
colored_ylabel(32, 123, label_parts)
colored_ylabel(257, 1071, label_parts)

# -------------------------------------------------
# grey connectors between (a) and the small panels
# -------------------------------------------------
turn_y = [413, None, 417, 417]
tip_x = [213, None, 548, 784]
for om, va, ty, tx in zip(link_up_omega, link_up_vavg, turn_y, tip_x):
    x0, y0 = ax_bot.transData.transform((om, va))
    y0 = H - y0
    if ty is None:
        pts = [(x0, y0), (x0, 364)]
    else:
        pts = [(x0, y0), (x0, ty), (tx, ty), (tx, 364)]
    connector(pts)

x0, y0 = ax_top.transData.transform((link_down_omega[0], link_down_v[0]))
connector([(x0, H - y0), (x0, 709)])
connector([(x0, 643), (443.5, 643), (443.5, 709)])
x1, y1 = ax_top.transData.transform((link_down_omega[1], link_down_v[1]))
connector([(x1, H - y1), (x1, 643), (761, 643), (761, 709)])

fig.savefig("out.png", dpi=100)
